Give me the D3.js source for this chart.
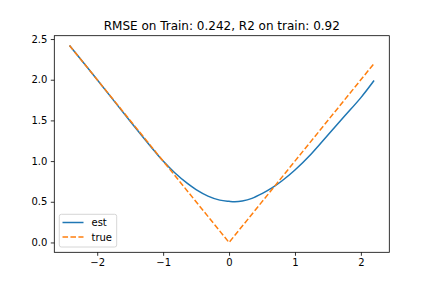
<!DOCTYPE html>
<html>
<head>
<meta charset="utf-8">
<script src="https://cdn.jsdelivr.net/npm/d3@7"></script>
<style>
  body { margin: 0; background: #fff; }
  svg { display: block; font-family: "DejaVu Sans", sans-serif; }
</style>
</head>
<body>
<div id="chart"></div>
<script>
// DATA
const estX = [-2.42, -2.0, -1.5, -1.128, -1.0, -0.824, -0.627, -0.5, -0.32, -0.14, 0.0, 0.088, 0.2, 0.347, 0.5, 0.651, 0.8, 1.0, 1.25, 1.5, 1.75, 2.0, 2.2];
const estY = [2.42, 2.0, 1.49, 1.12, 1.0, 0.857, 0.722, 0.65, 0.57, 0.52, 0.505, 0.50, 0.51, 0.542, 0.60, 0.67, 0.755, 0.89, 1.09, 1.32, 1.55, 1.78, 1.99];
const trueX = [-2.42, 0.0, 2.2];
const trueY = [2.42, 0.0, 2.2];
const xTicks = [-2, -1, 0, 1, 2];
const yTicks = [0.0, 0.5, 1.0, 1.5, 2.0, 2.5];
const title = 'RMSE on Train: 0.242, R2 on train: 0.92';

const width = 432, height = 288;
const mLeft = 54.3, mRight = 389.3, mTop = 35.7, mBottom = 252.3;

const svg = d3.select('#chart').append('svg')
    .attr('width', width)
    .attr('height', height);

const x = d3.scaleLinear().domain([-2.651, 2.431]).range([mLeft, mRight]);
const y = d3.scaleLinear().domain([-0.121, 2.541]).range([mBottom, mTop]);

//LINES
const line = d3.line()
    .x(d => x(d[0]))
    .y(d => y(d[1]));

svg.append('path')
    .datum(estX.map((v, i) => [v, estY[i]]))
    .attr('d', line.curve(d3.curveCatmullRom.alpha(0.5)))
    .attr('fill', 'none')
    .attr('stroke', '#1f77b4')
    .attr('stroke-width', 1.5);

svg.append('path')
    .datum(trueX.map((v, i) => [v, trueY[i]]))
    .attr('d', d3.line().x(d => x(d[0])).y(d => y(d[1])))
    .attr('fill', 'none')
    .attr('stroke', '#ff7f0e')
    .attr('stroke-width', 1.5)
    .attr('stroke-dasharray', '5.55,2.4');

//AXES
const fmtMinus = s => s.replace('-', '\u2212');

const xAxis = svg.append('g')
    .attr('transform', `translate(0,${mBottom})`)
    .call(d3.axisBottom(x).tickValues(xTicks).tickSize(3.5).tickPadding(3.5)
        .tickFormat(d => fmtMinus(d3.format('d')(d))));

const yAxis = svg.append('g')
    .attr('transform', `translate(${mLeft},0)`)
    .call(d3.axisLeft(y).tickValues(yTicks).tickSize(3.5).tickPadding(3.5)
        .tickFormat(d3.format('.1f')));

[xAxis, yAxis].forEach(a => {
    a.select('.domain').remove();
    a.selectAll('line').attr('stroke', '#000').attr('stroke-width', 0.8);
    a.selectAll('text').attr('fill', '#000').style('font-size', '10px')
        .style('font-family', '"DejaVu Sans", sans-serif');
});

svg.append('rect')
    .attr('x', mLeft)
    .attr('y', mTop)
    .attr('width', mRight - mLeft)
    .attr('height', mBottom - mTop)
    .attr('fill', 'none')
    .attr('stroke', '#000')
    .attr('stroke-width', 0.8);

//TITLE
svg.append('text')
    .attr('x', (mLeft + mRight) / 2)
    .attr('y', 29.5)
    .attr('text-anchor', 'middle')
    .style('font-size', '12px')
    .text(title);

//LEGEND
const legend = svg.append('g');
legend.append('rect')
    .attr('x', 59.3)
    .attr('y', 214.3)
    .attr('width', 57.4)
    .attr('height', 32.7)
    .attr('rx', 2)
    .attr('fill', 'rgba(255,255,255,0.8)')
    .attr('stroke', '#cccccc')
    .attr('stroke-width', 0.8);

const items = [
    { label: 'est', color: '#1f77b4', dash: null, cy: 222.5 },
    { label: 'true', color: '#ff7f0e', dash: '5.55,2.4', cy: 237 }
];
items.forEach(it => {
    legend.append('line')
        .attr('x1', 62.5).attr('x2', 83.5)
        .attr('y1', it.cy).attr('y2', it.cy)
        .attr('stroke', it.color)
        .attr('stroke-width', 1.5)
        .attr('stroke-dasharray', it.dash);
    legend.append('text')
        .attr('x', 91.5)
        .attr('y', it.cy + 3.5)
        .style('font-size', '10px')
        .text(it.label);
});
</script>
</body>
</html>
